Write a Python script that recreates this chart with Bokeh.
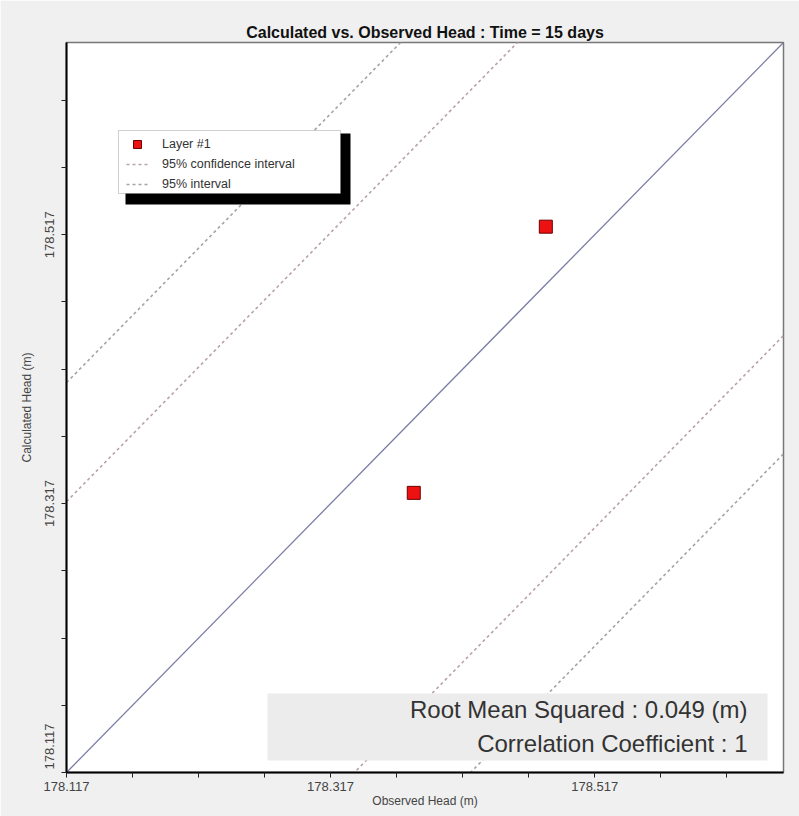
from bokeh.plotting import figure
from bokeh.models import (Range1d, FixedTicker, Legend, LegendItem, BoxAnnotation, Label)
from bokeh.embed import file_html
from bokeh.resources import INLINE

# ---- data ----
axis_min = 178.117
axis_max = 178.66
tick_values = [178.117, 178.317, 178.517]
tick_labels = ["178.117", "178.317", "178.517"]
minor_tick_values = [178.167, 178.217, 178.267, 178.367, 178.417, 178.467, 178.567, 178.617]

observed = [178.380, 178.480]
calculated = [178.325, 178.523]

conf_offsets = [0.2015, -0.218]      # 95% confidence interval
interval_offsets = [0.290, -0.306]   # 95% interval

title_text = "Calculated vs. Observed Head : Time = 15 days"
rms_text = "Root Mean Squared : 0.049 (m)"
corr_text = "Correlation Coefficient : 1"

FONT = "Liberation Sans"

p = figure(width=799, height=816, frame_width=717, frame_height=730,
           x_range=Range1d(axis_min, axis_max), y_range=Range1d(axis_min, axis_max),
           output_backend="svg", toolbar_location=None,
           min_border_left=66, min_border_top=42, min_border_right=16, min_border_bottom=44)

p.background_fill_color = "white"
p.border_fill_color = "#f0f0f0"
p.outline_line_color = "#777777"
p.outline_line_width = 1.5
p.grid.visible = False

p.title.text = title_text
p.title.align = "center"
p.title.text_font = FONT
p.title.text_font_size = "16px"
p.title.text_font_style = "bold"
p.title.text_color = "#111111"
p.title.standoff = 4

for ax in (p.xaxis[0], p.yaxis[0]):
    ax.ticker = FixedTicker(ticks=tick_values, minor_ticks=minor_tick_values)
    ax.axis_line_color = "black"
    ax.axis_line_width = 2
    ax.major_tick_in = 0
    ax.major_tick_out = 5
    ax.minor_tick_in = 0
    ax.minor_tick_out = 5
    ax.major_tick_line_color = "#222222"
    ax.minor_tick_line_color = "#222222"
    ax.major_label_text_font = FONT
    ax.major_label_text_font_size = "13px"
    ax.major_label_text_color = "#444444"
    ax.axis_label_text_font = FONT
    ax.axis_label_text_font_size = "12px"
    ax.axis_label_text_font_style = "normal"
    ax.axis_label_text_color = "#444444"

p.xaxis.major_label_overrides = {v: s for v, s in zip(tick_values, tick_labels)}
# lowest y tick label is shifted up (leading no-break spaces) so it ends at the corner
y_over = {v: s for v, s in zip(tick_values, tick_labels)}
y_over[tick_values[0]] = "\u00a0" * 13 + tick_labels[0]
p.yaxis.major_label_overrides = y_over

p.xaxis.axis_label = "Observed Head (m)"
p.yaxis.axis_label = "Calculated Head (m)"
p.xaxis.major_label_standoff = 4
p.xaxis.axis_label_standoff = 0
p.yaxis.major_label_orientation = "vertical"
p.yaxis.major_label_standoff = 4
p.yaxis.axis_label_standoff = 6

# 1:1 line
line_x = [axis_min, axis_max]
p.line(line_x, line_x, line_color="#7a7ca6", line_width=1.3)

conf_renderers = []
for off in conf_offsets:
    r = p.line(line_x, [v + off for v in line_x], line_color="#b9a3a3",
               line_width=1.6, line_dash="3 3")
    conf_renderers.append(r)
int_renderers = []
for off in interval_offsets:
    r = p.line(line_x, [v + off for v in line_x], line_color="#a3a3aa",
               line_width=1.6, line_dash="3 3")
    int_renderers.append(r)

pts = p.scatter(observed, calculated, marker="square", size=13,
                fill_color="#ee1111", line_color="#6a0000", line_width=1)

# legend box with shadow
shadow = BoxAnnotation(left=59, right=284, top=639, bottom=568,
                       left_units="screen", right_units="screen",
                       top_units="screen", bottom_units="screen",
                       fill_color="black", fill_alpha=1, line_color=None)
lbox = BoxAnnotation(left=52, right=274, top=642, bottom=579,
                     left_units="screen", right_units="screen",
                     top_units="screen", bottom_units="screen",
                     fill_color="white", fill_alpha=1, line_color="#666666", line_width=1)
p.add_layout(shadow)
p.add_layout(lbox)

legend = Legend(items=[
    LegendItem(label="Layer #1", renderers=[pts]),
    LegendItem(label="95% confidence interval", renderers=[conf_renderers[0]]),
    LegendItem(label="95% interval", renderers=[int_renderers[0]]),
], location=(60, 578))
legend.background_fill_alpha = 0
legend.border_line_color = None
legend.padding = 2
legend.margin = 0
legend.spacing = 0
legend.glyph_width = 22
legend.glyph_height = 20
legend.label_height = 20
legend.label_standoff = 14
legend.label_text_font = FONT
legend.label_text_font_size = "12.5px"
legend.label_text_color = "#333333"
p.add_layout(legend, "center")

# statistics box
sbox = BoxAnnotation(left=201, right=701, top=79, bottom=12,
                     left_units="screen", right_units="screen",
                     top_units="screen", bottom_units="screen",
                     fill_color="#ececec", fill_alpha=1, line_color=None)
p.add_layout(sbox)
for txt, yy in ((rms_text, 63), (corr_text, 29)):
    p.add_layout(Label(x=681, y=yy, x_units="screen", y_units="screen", text=txt,
                       text_align="right", text_baseline="alphabetic",
                       text_font=FONT, text_font_size="24px", text_color="#333333"))

open("out.html", "w").write(file_html(p, INLINE))
